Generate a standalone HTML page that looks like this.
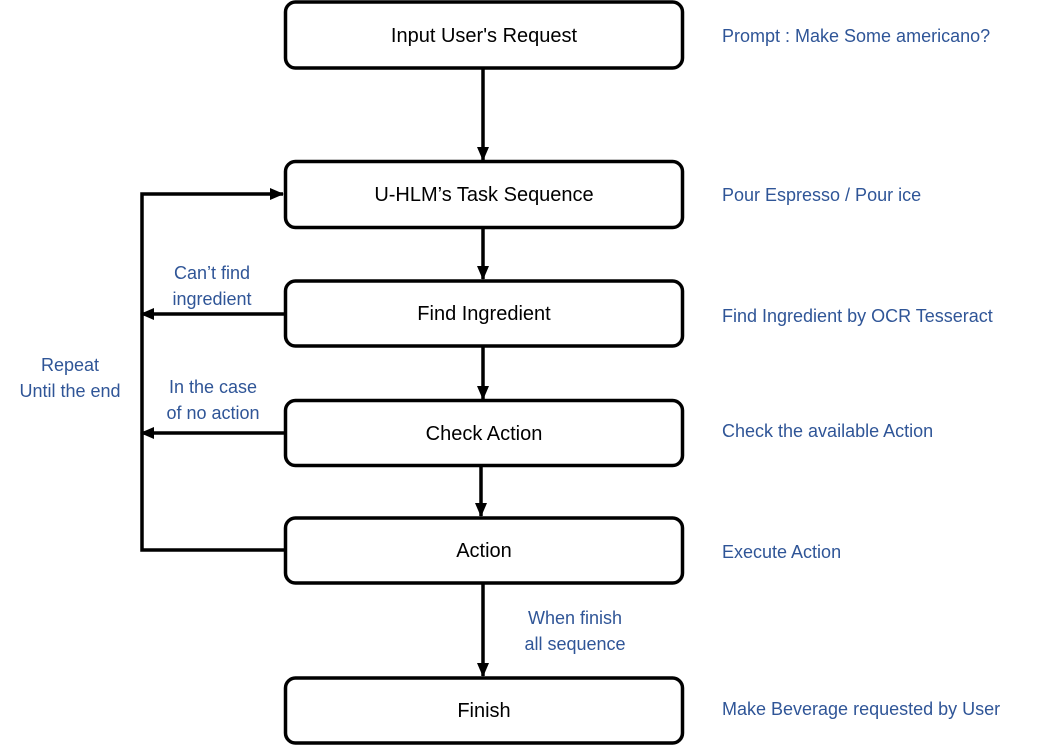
<!DOCTYPE html>
<html><head><meta charset="utf-8"><style>
body{margin:0;width:1054px;height:745px;background:#fff;overflow:hidden}
svg text{font-family:"Liberation Sans",sans-serif}
.b{font-size:20px;fill:#000;text-anchor:middle}
.l{font-size:18px;fill:#2f5597}
.c{text-anchor:middle}
</style></head><body>
<svg width="1054" height="745" xmlns="http://www.w3.org/2000/svg">
<defs><marker id="a" markerWidth="14" markerHeight="12" refX="13" refY="6" orient="auto" markerUnits="userSpaceOnUse"><path d="M0,0 L14,6 L0,12 z" fill="#000"/></marker></defs>
<g fill="#fff" stroke="#000" stroke-width="3.5">
<rect x="285.5" y="2" width="397" height="66" rx="10"/>
<rect x="285.5" y="161.5" width="397" height="66" rx="10"/>
<rect x="285.5" y="281" width="397" height="65" rx="10"/>
<rect x="285.5" y="400.5" width="397" height="65" rx="10"/>
<rect x="285.5" y="518" width="397" height="65" rx="10"/>
<rect x="285.5" y="678" width="397" height="65" rx="10"/>
</g>
<g stroke="#000" stroke-width="3.5" fill="none">
<line x1="483" y1="68" x2="483" y2="160" marker-end="url(#a)"/>
<line x1="483" y1="228" x2="483" y2="279" marker-end="url(#a)"/>
<line x1="483" y1="346" x2="483" y2="399" marker-end="url(#a)"/>
<line x1="481" y1="466" x2="481" y2="516" marker-end="url(#a)"/>
<line x1="483" y1="583" x2="483" y2="676" marker-end="url(#a)"/>
<polyline points="285,550 142,550 142,194 283,194" marker-end="url(#a)"/>
<line x1="285" y1="314" x2="141" y2="314" marker-end="url(#a)"/>
<line x1="285" y1="433" x2="141" y2="433" marker-end="url(#a)"/>
</g>
<text class="b" x="484" y="42">Input User's Request</text>
<text class="b" x="484" y="201">U-HLM’s Task Sequence</text>
<text class="b" x="484" y="320">Find Ingredient</text>
<text class="b" x="484" y="440">Check Action</text>
<text class="b" x="484" y="557">Action</text>
<text class="b" x="484" y="717">Finish</text>
<text class="l" x="722" y="42">Prompt : Make Some americano?</text>
<text class="l" x="722" y="201">Pour Espresso  / Pour ice</text>
<text class="l" x="722" y="322">Find Ingredient  by OCR Tesseract</text>
<text class="l" x="722" y="437">Check the available Action</text>
<text class="l" x="722" y="558">Execute  Action</text>
<text class="l" x="722" y="715">Make Beverage  requested by User</text>
<text class="l c" x="212" y="279">Can’t find</text>
<text class="l c" x="212" y="305">ingredient</text>
<text class="l c" x="213" y="393">In the case</text>
<text class="l c" x="213" y="419">of no action</text>
<text class="l c" x="70" y="371">Repeat</text>
<text class="l c" x="70" y="397">Until the end</text>
<text class="l c" x="575" y="624">When finish</text>
<text class="l c" x="575" y="650">all sequence</text>
</svg>
</body></html>
